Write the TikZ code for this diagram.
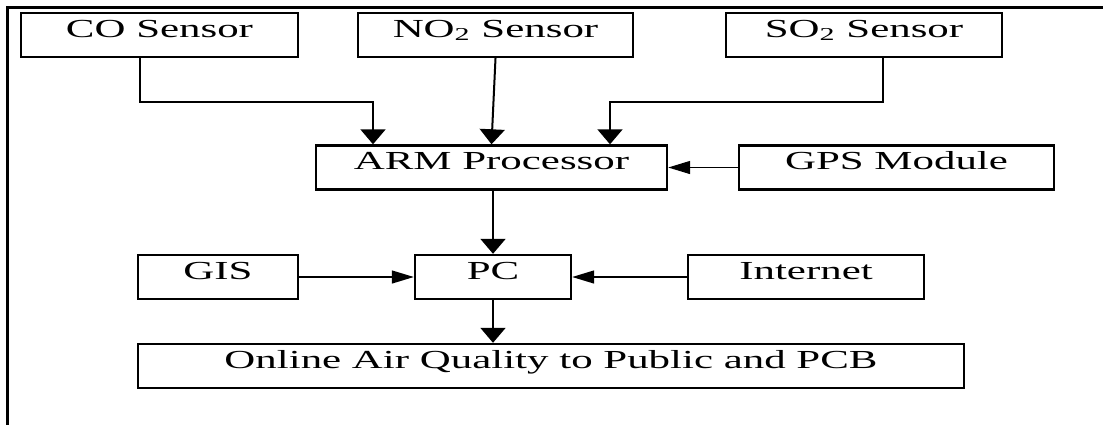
\documentclass[tikz,border=0pt]{standalone}
\usepackage{fontspec}
\setmainfont[FakeStretch=1.65]{Liberation Serif}
\usetikzlibrary{arrows.meta}
\tikzset{
  block/.style={draw, line width=1.2pt, inner sep=0pt, text height=12pt, text depth=10pt, font=\fontsize{13}{15}\selectfont},
  vlink/.style={line width=1pt, -{Triangle[length=7.5pt, width=12.5pt]}},
  hlink/.style={line width=0.7pt, -{Triangle[length=11pt, width=6.5pt]}},
}
\begin{document}
\begin{tikzpicture}[x=0.5pt, y=0.5pt]
  \useasboundingbox (0,0) rectangle (1103,425);
  % outer frame (top and left edge)
  \draw[line width=1.3pt] (1103,417.5) -- (7.5,417.5) -- (7.5,0);

  % sensors
  \node[block, minimum width=138.5pt] (co) at (159.5,390) {CO Sensor};
  \node[block, minimum width=137.5pt] (no2) at (495.5,390) {NO\textsubscript{2} Sensor};
  \node[block, minimum width=138pt] (so2) at (864,390) {SO\textsubscript{2} Sensor};

  % processing
  \node[block, minimum width=175.5pt] (arm) at (491.5,257.5) {ARM Processor};
  \node[block, minimum width=157.5pt] (gps) at (896.5,257.5) {GPS Module};

  % PC row
  \node[block, minimum width=80pt] (gis) at (218,148) {GIS};
  \node[block, minimum width=78pt] (pc) at (493,148) {PC};
  \node[block, minimum width=118pt] (net) at (806,148) {Internet};

  % output
  \node[block, minimum width=413pt] (online) at (551,59) {Online Air Quality to Public and PCB};

  % sensor links
  \draw[vlink] ([xshift=-9.75pt]co.south) -- ++(0,-44) -| ([xshift=-59.25pt]arm.north);
  \draw[vlink] (no2.south) -- (arm.north);
  \draw[vlink] ([xshift=9.5pt]so2.south) -- ++(0,-44) -| ([xshift=59.25pt]arm.north);
  \draw[hlink] (gps.west) -- (arm.east);

  % PC links
  \draw[vlink] (arm.south -| pc.north) -- (pc.north);
  \draw[hlink] (gis.east) -- (pc.west);
  \draw[hlink] (net.west) -- (pc.east);
  \draw[vlink] (pc.south) -- (pc.south |- online.north);
\end{tikzpicture}
\end{document}
